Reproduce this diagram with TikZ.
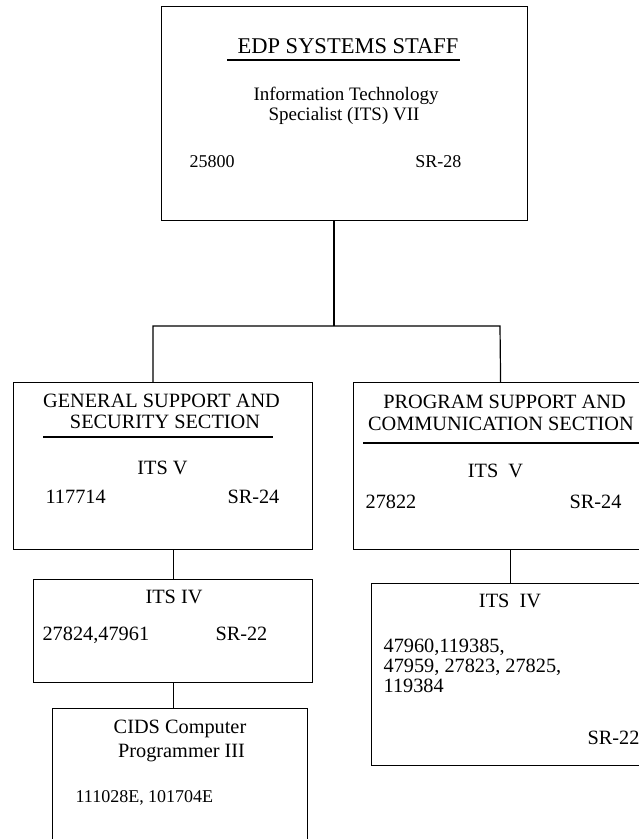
\documentclass[tikz,border=0pt]{standalone}
\usepackage{fontspec}
\setmainfont{Liberation Serif}
\newcommand{\titleFont}{\fontsize{22.5}{25}\selectfont}
\newcommand{\boxFont}{\fontsize{20.3}{22}\selectfont}
\newcommand{\numFont}{\fontsize{18}{20}\selectfont}

\begin{document}
\begin{tikzpicture}[x=1pt, y=-1pt, line width=1.2pt,
  box/.style={draw, rectangle, anchor=north west, inner sep=0pt},
  lbl/.style={anchor=base, inner sep=0pt, font=\boxFont},
  lbll/.style={anchor=base west, inner sep=0pt, font=\boxFont},
  lblr/.style={anchor=base east, inner sep=0pt, font=\boxFont}]
  \useasboundingbox (0,0) rectangle (639,839);
  \clip (0,0) rectangle (639,839);

  \node[box, minimum width=366pt, minimum height=214pt] (top) at (161,6) {};
  \node[box, minimum width=299pt, minimum height=167pt] (gen) at (13,382) {};
  \node[box, minimum width=294pt, minimum height=167pt] (prog) at (353,382) {};
  \node[box, minimum width=279pt, minimum height=103pt] (itsa) at (33,579) {};
  \node[box, minimum width=255pt, minimum height=150pt] (cids) at (52,708) {};
  \node[box, minimum width=278pt, minimum height=182pt] (itsb) at (371,583) {};

  % connectors
  \coordinate (bus) at (334,326);
  \coordinate (busL) at (153,326);
  \coordinate (busR) at (500,326);
  \draw (top.south -| bus) -- (bus);
  \draw (gen.north -| busL) |- (busR) -- (prog.north);
  \draw (gen.south -| itsa.north) -- (itsa.north);
  \draw (itsa.south) -- (itsa.south |- cids.north);
  \draw (itsb.north |- prog.south) -- (itsb.north);

  % top box
  \node[lbl, font=\titleFont] (edp) at (348,53) {EDP SYSTEMS STAFF};
  \draw (227,60) -- (460,60);
  \node[lbl, font=\fontsize{19}{20}\selectfont] (infoA) at (346,100) {Information Technology};
  \node[lbl, font=\fontsize{19}{20}\selectfont] (infoB) at (344,120) {Specialist (ITS) VII};
  \node[lbll, font=\numFont] (edpnum) at (189,167) {25800};
  \node[lblr, font=\numFont] (edpsr) at (462,167) {SR-28};

  % general support
  \node[lbl] (genA) at (161.5,407) {GENERAL SUPPORT AND};
  \node[lbl] (genB) at (165,428) {SECURITY SECTION};
  \draw (43,437) -- (273,437);
  \node[lbl] (genits) at (162.5,474) {ITS V};
  \node[lbll] (gennum) at (45,503) {117714};
  \node[lblr] (gensr) at (280,503) {SR-24};

  % program support
  \node[lbl] (progA) at (504.5,408) {PROGRAM SUPPORT AND};
  \node[lbl] (progB) at (501,430) {COMMUNICATION SECTION};
  \draw (363,443) -- (650,443);
  \node[lbl] (progits) at (495.5,477) {ITS\ \ V};
  \node[lbll] (prognum) at (365,508) {27822};
  \node[lblr] (progsr) at (622,508) {SR-24};

  \node[lbl] (aits) at (174,603) {ITS IV};
  \node[lbll] (anum) at (42,640) {27824,47961};
  \node[lblr] (asr) at (268,640) {SR-22};

  \node[lbl] (cidsA) at (180,733) {CIDS Computer};
  \node[lbl] (cidsB) at (181.5,757) {Programmer III};
  \node[lbll, font=\numFont] (cidsnum) at (75,802) {111028E, 101704E};

  \node[lbl] (bits) at (510,607) {ITS\ \ IV};
  \node[lbll] (bnumA) at (383,652) {47960,119385,};
  \node[lbll] (bnumB) at (383,672) {47959, 27823, 27825,};
  \node[lbll] (bnumC) at (383,692) {119384};
  \node[lblr] (bsr) at (640,744) {SR-22};
\end{tikzpicture}
\end{document}
